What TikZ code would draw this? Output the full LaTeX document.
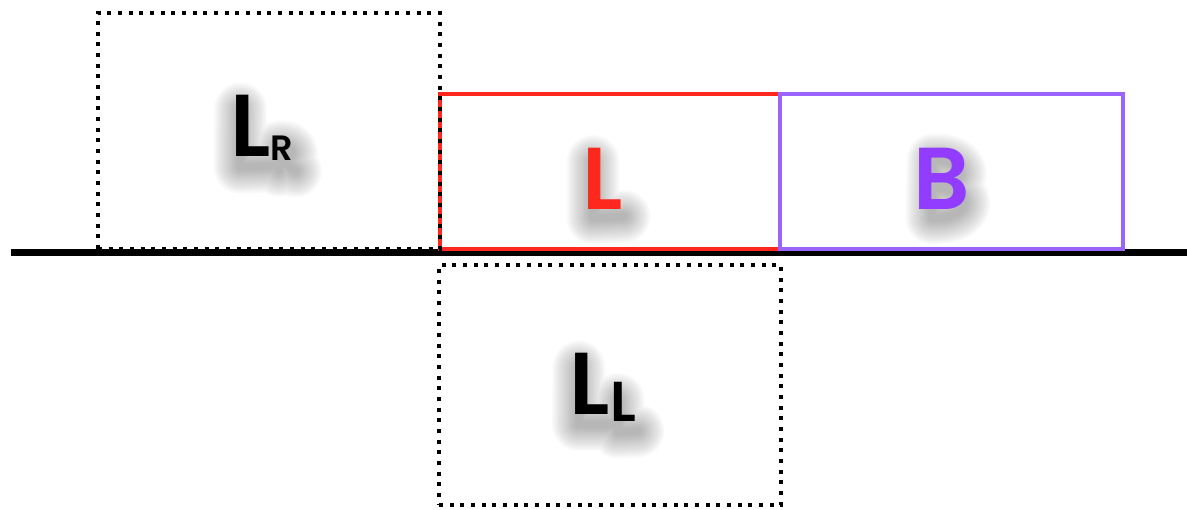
\documentclass[tikz,border=0pt]{standalone}
\usepackage{fontspec}
\setmainfont{Poppins}[BoldFont=* SemiBold]
\usetikzlibrary{positioning}

\definecolor{lred}{RGB}{255,40,30}
\definecolor{bviolet}{RGB}{155,100,255}
\definecolor{btext}{RGB}{145,60,255}

\newcommand{\bigL}{\fontsize{50}{50}\selectfont\bfseries}

\tikzset{
  solidbox/.style={draw, line width=2.8pt, inner sep=0pt, outer sep=0pt,
    minimum height=3.1cm},
  ghostbox/.style={draw=black, line width=2.3pt, dash pattern=on 2.3pt off 3.77pt,
    inner sep=0pt, outer sep=0pt, minimum width=6.84cm},
  lbl/.style={inner sep=0pt, font=\bigL},
  blur/.style={black, opacity=0.025, line cap=round, line join=round}
}

\begin{document}
\begin{tikzpicture}
  \useasboundingbox (0,0) rectangle (23.74,-10.18);

  \coordinate (g0) at (0.22,-5.05);
  \coordinate (g1) at (23.74,-5.05);
  \draw[line width=3.8pt] (g0) -- (g1);

  \node[solidbox, draw=lred, minimum width=6.8cm] (lbox) at (12.2,-3.43) {};
  \node[solidbox, draw=bviolet, minimum width=6.86cm, right=0cm of lbox] (bbox) {};
  \node[ghostbox, minimum height=4.72cm, above left=0cm and 0cm of lbox.south west] (lr) {};
  \node[ghostbox, minimum height=4.8cm, below=0.32cm of lbox] (ll) {};

  % labels, each with a soft shadow
  \foreach \p/\s/\c/\t/\sh in {
      lbox/{-0.14,-0.15}/lred/L/{(-0.32,0.55) -- (-0.32,-0.58) -- (0.3,-0.55)},
      bbox/{-0.19,-0.15}/btext/B/{(-0.3,0.58) -- (-0.32,-0.58) .. controls (0.55,-0.6) and (0.5,0.05) .. (-0.3,0.02) .. controls (0.45,0.05) and (0.4,0.62) .. (-0.3,0.58)},
      lr/{-0.14,0.06}/black/{L\raisebox{-2pt}{\fontsize{20}{20}\selectfont R}}/{(-0.55,0.58) -- (-0.56,-0.58) -- (0.08,-0.56) (0.22,-0.65) -- (0.22,-0.18) .. controls (0.55,-0.15) and (0.55,-0.45) .. (0.24,-0.42) -- (0.55,-0.66)},
      ll/{-0.14,-0.04}/black/{L\raisebox{-4pt}{\fontsize{32}{32}\selectfont L}}/{(-0.6,0.6) -- (-0.61,-0.55) -- (0.04,-0.55) (0.18,-0.05) -- (0.18,-0.7) -- (0.58,-0.68)}} {
    \begin{scope}[shift={([shift={(\s)}]\p.center)}, shift={(0.12,-0.2)}]
      \foreach \w in {4,6,...,30}
        \draw[blur, line width=\w pt] \sh;
    \end{scope}
    \node[lbl, text=\c] (\p-txt) at ([shift={(\s)}]\p.center) {\t};
  }
\end{tikzpicture}
\end{document}
